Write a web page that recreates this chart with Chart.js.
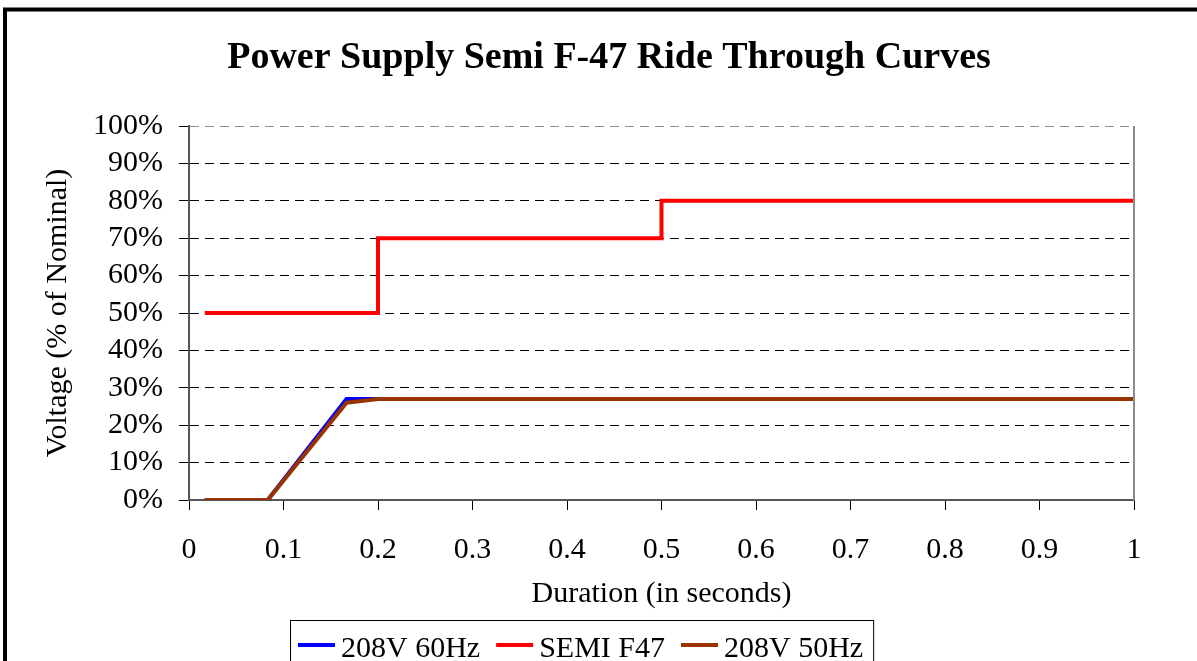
<!DOCTYPE html>
<html>
<head>
<meta charset="utf-8">
<script src="https://cdn.jsdelivr.net/npm/chart.js@4"></script>
<style>
  html, body { margin: 0; padding: 0; background: #fff; }
  canvas { display: block; }
</style>
</head>
<body>
<canvas id="rideChart" width="1197" height="661"></canvas>
<script>
// Waarden (duur in s, spanning als fractie van nominaal)
const t60 = [0.0167, 0.0833, 0.1667, 1];
const v60 = [0, 0, 0.27, 0.27];
const tSemi = [0.0167, 0.2, 0.2, 0.5, 0.5, 1];
const vSemi = [0.5, 0.5, 0.7, 0.7, 0.8, 0.8];
const t50 = [0.0167, 0.0833, 0.1667, 0.2, 1];
const v50 = [0, 0, 0.26, 0.27, 0.27];

const seriesNames = ["208V 60Hz", "SEMI F47", "208V 50Hz"];
const seriesColors = ["#0000ff", "#ff0000", "#993300"];
const xTickLabels = ["0", "0.1", "0.2", "0.3", "0.4", "0.5", "0.6", "0.7", "0.8", "0.9", "1"];
const yTickLabels = ["0%", "10%", "20%", "30%", "40%", "50%", "60%", "70%", "80%", "90%", "100%"];

const FONT = "'Liberation Serif', 'Times New Roman', serif";

const toPoints = (xs, ys) => xs.map((x, i) => ({ x, y: ys[i] }));

// Rand rond de figuur, rechterrand van plotgebied en legenda onderaan
const framePlugin = {
  id: "frame",
  beforeDraw(chart) {
    const ctx = chart.ctx;
    ctx.save();
    ctx.fillStyle = "#fff";
    ctx.fillRect(0, 0, chart.width, chart.height);
    ctx.lineWidth = 4;
    ctx.strokeStyle = "#000";
    ctx.strokeRect(5, 9.5, 1400, 900);
    ctx.restore();
  },
  afterDraw(chart) {
    const ctx = chart.ctx;
    const area = chart.chartArea;
    ctx.save();
    ctx.strokeStyle = "#8c8c8c";
    ctx.lineWidth = 2;
    ctx.beginPath();
    ctx.moveTo(area.right, area.top);
    ctx.lineTo(area.right, area.bottom);
    ctx.stroke();

    // legenda
    ctx.font = "30px " + FONT;
    ctx.textBaseline = "alphabetic";
    let x = 298;
    const y = 645;
    chart.data.datasets.forEach(ds => {
      ctx.strokeStyle = ds.borderColor;
      ctx.lineWidth = 4;
      ctx.beginPath();
      ctx.moveTo(x, y);
      ctx.lineTo(x + 37, y);
      ctx.stroke();
      ctx.fillStyle = "#000";
      ctx.fillText(ds.label, x + 43, y + 12);
      x += 43 + ctx.measureText(ds.label).width + 16;
    });
    ctx.strokeStyle = "#000";
    ctx.lineWidth = 1;
    ctx.strokeRect(290.5, 620.5, x - 290 - 6, 100);
    ctx.restore();
  }
};

new Chart(document.getElementById("rideChart"), {
  type: "line",
  data: {
    datasets: [
      { label: seriesNames[0], data: toPoints(t60, v60), borderColor: seriesColors[0] },
      { label: seriesNames[1], data: toPoints(tSemi, vSemi), borderColor: seriesColors[1] },
      { label: seriesNames[2], data: toPoints(t50, v50), borderColor: seriesColors[2], order: -1 }
    ]
  },
  options: {
    responsive: false,
    animation: false,
    devicePixelRatio: 1,
    // links 84 zodat de titel boven het midden (x ~ 609) staat
    layout: { padding: { top: 0, right: 63, bottom: 0, left: 84 } },
    elements: {
      line: { borderWidth: 4, tension: 0, borderJoinStyle: "miter", fill: false },
      point: { radius: 0, hoverRadius: 0 }
    },
    plugins: {
      legend: { display: false },
      tooltip: { enabled: false },
      title: {
        display: true,
        text: "Power Supply Semi F-47 Ride Through Curves",
        color: "#000",
        font: { family: FONT, size: 38, weight: "bold", lineHeight: 1.2 },
        padding: { top: 35, bottom: 45.4 }
      }
    },
    scales: {
      x: {
        type: "linear",
        min: 0,
        max: 1,
        afterFit: s => { s.height = 161; },
        ticks: {
          stepSize: 0.1,
          autoSkip: false,
          color: "#000",
          padding: 22,
          maxRotation: 0,
          font: { family: FONT, size: 30, lineHeight: 1.2 },
          callback: (v, i) => xTickLabels[i]
        },
        grid: { drawOnChartArea: false, drawTicks: true, tickLength: 10, tickColor: "#000", tickWidth: 1 },
        border: { display: true, color: "#555", width: 2 },
        title: {
          display: true,
          text: "Duration (in seconds)",
          color: "#000",
          font: { family: FONT, size: 30, lineHeight: 1.2 },
          padding: { top: 0, bottom: 49 }
        }
      },
      y: {
        min: 0,
        max: 1,
        afterFit: s => { s.width = 105; },
        ticks: {
          stepSize: 0.1,
          autoSkip: false,
          color: "#000",
          padding: 16,
          font: { family: FONT, size: 30, lineHeight: 1.2 },
          callback: (v, i) => yTickLabels[i]
        },
        grid: {
          color: ctx => (ctx.index === 10 ? "#8c8c8c" : "#000"),
          lineWidth: 1,
          tickLength: 10,
          tickColor: "#000",
          tickWidth: 1
        },
        border: { display: true, color: "#555", width: 2, dash: [9, 6] },
        title: {
          display: true,
          text: "Voltage (% of Nominal)",
          color: "#000",
          font: { family: FONT, size: 30, lineHeight: 1.2 },
          padding: { top: -44, bottom: 0 }
        }
      }
    }
  },
  plugins: [framePlugin]
});
</script>
</body>
</html>
